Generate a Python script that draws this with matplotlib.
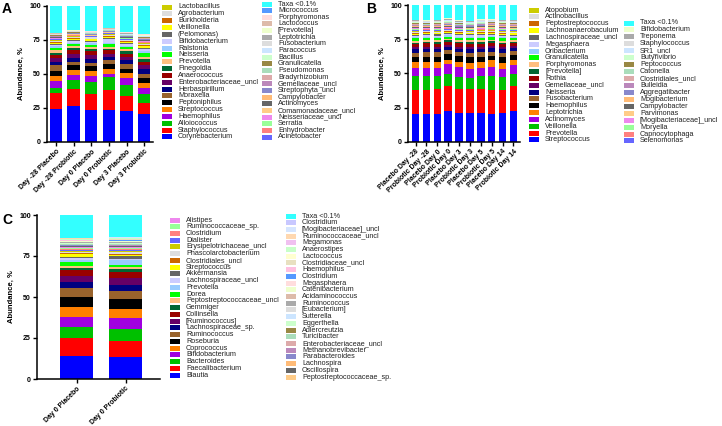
import matplotlib
matplotlib.use("Agg")
import matplotlib.pyplot as plt
from matplotlib.patches import Rectangle
import numpy as np

plt.rcParams['font.family'] = ['Liberation Sans', 'DejaVu Sans']

W, H = 722, 426

# shared GraphPad-like colour order, bottom of stack first
palette = ["#0000FF", "#FF0000", "#00C000", "#A000E0", "#FF8000", "#000000",
           "#99632C", "#000080", "#660066", "#990000", "#006633", "#FFBF80",
           "#00FF00", "#99CCFF", "#CCCCFF", "#666666", "#FFFF00", "#CC6600",
           "#DDDDDD", "#CCCC00", "#6666FF", "#FF8080", "#99FF99", "#EE88EE",
           "#FFCC88", "#666666", "#FFBB77", "#8888CC", "#BB88BB", "#DDAAAA",
           "#AADDBB", "#998844", "#CCFFCC", "#CCE5FF", "#DDDDDD", "#AAAAAA",
           "#EEFFCC", "#DDBBAA", "#FFDDDD", "#5599FF", "#FFC0E0", "#E8E0C0",
           "#FFFFD0", "#C8FFC8", "#F0C0F0", "#FFD8B0", "#D5E5FF", "#C8C8FF"]
taxa_color = "#33FFFF"

# ---------------- panel A ----------------
a_groups = ["Day -28 Placebo", "Day -28 Probiotic", "Day 0 Placebo",
            "Day 0 Probiotic", "Day 3 Placebo", "Day 3 Probiotic"]
a_taxa = ["Corynebacterium", "Staphylococcus", "Alloiococcus", "Haemophilus",
          "Streptococcus", "Peptoniphilus", "Moraxella", "Herbaspirillum",
          "Enterobacteriaceae_uncl", "Anaerococcus", "Finegoldia", "Prevotella",
          "Neisseria", "Ralstonia", "Bifidobacterium", "(Pelomonas)", "Veillonella",
          "Burkholderia", "Agrobacterium", "Lactobacillus",
          "Acinetobacter", "Enhydrobacter", "Serratia", "Neisseriaceae_uncl",
          "Comamonadaceae_uncl", "Actinomyces", "Campylobacter", "Streptophyta_uncl",
          "Gemellaceae_uncl", "Bradyrhizobium", "Pseudomonas", "Granulicatella",
          "Bacillus", "Paracoccus", "Fusobacterium", "Leptotrichia", "[Prevotella]",
          "Lactococcus", "Porphyromonas", "Micrococcus", "Taxa <0.1%"]
a_ncol1 = 20
a_day_m28_placebo = [24.5, 11.5, 4.0, 4.6, 4.0, 3.8, 4.0, 2.5, 2.5, 2.5, 1.7, 2.0, 1.5, 1.2, 1.2, 0.8, 0.8, 0.7, 0.8, 0.6,
                     0.3, 0.3, 0.2, 0.3, 0.3, 0.3, 0.2, 0.3, 0.3, 0.2, 0.2, 0.3, 0.2, 0.3, 0.3, 0.3, 0.2, 0.3, 0.3, 0.2, 19.5]
a_day_m28_probiotic = [26.2, 13.0, 6.6, 3.2, 3.7, 3.7, 2.4, 3.2, 2.5, 2.9, 1.6, 1.5, 1.2, 1.2, 1.0, 0.8, 1.2, 0.6, 0.8, 0.6,
                       0.3, 0.2, 0.2, 0.3, 0.2, 0.3, 0.2, 0.2, 0.3, 0.2, 0.2, 0.3, 0.2, 0.2, 0.3, 0.3, 0.2, 0.2, 0.3, 0.2, 17.3]
a_day0_placebo = [23.8, 11.5, 9.1, 4.1, 3.5, 3.9, 2.4, 3.0, 2.4, 3.0, 1.5, 1.5, 1.6, 1.3, 1.2, 0.8, 0.8, 0.7, 0.8, 0.6,
                  0.2, 0.2, 0.2, 0.2, 0.3, 0.2, 0.2, 0.2, 0.2, 0.2, 0.2, 0.2, 0.2, 0.2, 0.2, 0.2, 0.2, 0.2, 0.2, 0.2, 18.4]
a_day0_probiotic = [23.3, 14.7, 9.5, 2.7, 3.7, 3.5, 2.6, 2.5, 2.0, 2.9, 1.3, 1.5, 1.6, 1.2, 2.5, 0.8, 1.0, 0.7, 0.8, 0.7,
                    0.3, 0.2, 0.2, 0.3, 0.2, 0.2, 0.2, 0.3, 0.2, 0.2, 0.2, 0.2, 0.3, 0.2, 0.2, 0.2, 0.3, 0.2, 0.2, 0.2, 16.0]
a_day3_placebo = [22.8, 11.0, 8.1, 5.1, 3.7, 3.2, 3.7, 2.4, 2.5, 2.5, 1.9, 1.4, 1.2, 1.2, 1.0, 0.8, 0.8, 0.6, 0.8, 0.6,
                  0.3, 0.3, 0.3, 0.2, 0.3, 0.3, 0.3, 0.3, 0.2, 0.3, 0.3, 0.3, 0.3, 0.2, 0.3, 0.3, 0.3, 0.3, 0.2, 0.3, 19.1]
a_day3_probiotic = [20.3, 8.1, 7.1, 4.5, 3.1, 3.9, 3.2, 3.7, 2.5, 2.4, 2.5, 1.2, 3.2, 1.5, 1.3, 0.9, 1.0, 0.7, 0.8, 0.6,
                    0.4, 0.4, 0.3, 0.4, 0.4, 0.3, 0.4, 0.4, 0.3, 0.4, 0.3, 0.4, 0.4, 0.3, 0.4, 0.3, 0.4, 0.3, 0.4, 0.3, 20.3]

# ---------------- panel B ----------------
b_groups = ["Placebo Day -28", "Probiotic Day -28", "Placebo Day 0", "Probiotic Day 0",
            "Placebo Day 3", "Probiotic Day 3", "Placebo Day 5", "Probiotic Day 5",
            "Placebo Day 14", "Probiotic Day 14"]
b_taxa = ["Streptococcus", "Prevotella", "Veillonella", "Actinomyces", "Leptotrichia",
          "Haemophilus", "Fusobacterium", "Neisseria", "Gemellaceae_uncl", "Rothia",
          "[Prevotella]", "Porphyromonas", "Granulicatella", "Oribacterium", "Megasphaera",
          "Lachnospiraceae_uncl", "Lachnoanaerobaculum", "Peptostreptococcus",
          "Actinobacillus", "Atopobium",
          "Selenomonas", "Capnocytophaga", "Moryella", "[Mogibacteriaceae]_uncl",
          "Parvimonas", "Campylobacter", "Mogibacterium", "Aggregatibacter", "Bulleidia",
          "Clostridiales_uncl", "Catonella", "Peptococcus", "Butyrivibrio", "SR1_uncl",
          "Staphylococcus", "Treponema", "Bifidobacterium", "Taxa <0.1%"]
b_ncol1 = 20
b_placebo_dm28 = [20.2, 18.0, 9.7, 6.4, 4.3, 3.4, 3.0, 2.6, 1.4, 2.4, 1.2, 1.4, 1.6, 1.0, 1.0, 0.8, 0.7, 0.6, 0.7, 0.6,
                  0.5, 0.5, 0.4, 0.5, 0.5, 0.6, 0.5, 0.5, 0.4, 0.5, 0.5, 0.4, 0.5, 0.5, 0.6, 0.4, 0.5, 10.7]
b_probiotic_dm28 = [20.2, 18.0, 9.7, 5.9, 4.8, 3.8, 3.0, 2.8, 1.5, 2.2, 1.3, 1.2, 1.4, 1.1, 1.0, 0.8, 0.8, 0.6, 0.7, 0.5,
                    0.4, 0.5, 0.4, 0.4, 0.5, 0.5, 0.4, 0.5, 0.4, 0.4, 0.5, 0.4, 0.4, 0.5, 0.5, 0.4, 0.4, 11.2]
b_placebo_d0 = [20.4, 18.5, 9.0, 6.4, 4.3, 3.8, 3.0, 2.5, 1.5, 2.3, 1.2, 1.3, 1.5, 1.1, 0.9, 0.8, 0.7, 0.6, 0.7, 0.5,
                0.5, 0.5, 0.4, 0.5, 0.5, 0.6, 0.5, 0.5, 0.4, 0.5, 0.5, 0.4, 0.5, 0.5, 0.6, 0.4, 0.5, 10.7]
b_probiotic_d0 = [22.4, 18.2, 9.3, 6.8, 3.3, 4.5, 2.9, 2.2, 1.3, 2.0, 1.2, 1.2, 1.5, 1.0, 0.9, 0.7, 0.8, 0.5, 0.7, 0.5,
                  0.5, 0.5, 0.4, 0.5, 0.5, 0.6, 0.5, 0.5, 0.4, 0.5, 0.5, 0.4, 0.5, 0.5, 0.6, 0.4, 0.5, 9.8]
b_placebo_d3 = [21.2, 17.5, 8.7, 7.1, 3.7, 4.6, 2.7, 2.6, 1.5, 2.3, 1.2, 1.3, 1.4, 1.1, 1.0, 0.8, 0.7, 0.6, 0.7, 0.5,
                0.4, 0.5, 0.4, 0.4, 0.5, 0.5, 0.4, 0.5, 0.4, 0.4, 0.5, 0.4, 0.4, 0.5, 0.5, 0.4, 0.4, 11.3]
b_probiotic_d3 = [21.2, 17.7, 8.1, 6.5, 4.2, 4.3, 3.0, 2.8, 1.6, 2.4, 1.3, 1.2, 1.5, 1.1, 0.9, 0.8, 0.7, 0.6, 0.7, 0.5,
                  0.4, 0.5, 0.4, 0.4, 0.5, 0.5, 0.4, 0.5, 0.4, 0.4, 0.5, 0.4, 0.4, 0.5, 0.5, 0.4, 0.4, 11.4]
b_placebo_d5 = [20.9, 17.5, 9.5, 6.4, 4.3, 3.4, 3.4, 2.6, 1.4, 2.4, 1.2, 1.4, 1.6, 1.0, 1.0, 0.8, 0.7, 0.6, 0.7, 0.6,
                0.5, 0.5, 0.4, 0.5, 0.5, 0.6, 0.5, 0.5, 0.4, 0.5, 0.5, 0.4, 0.5, 0.5, 0.6, 0.4, 0.5, 10.3]
b_probiotic_d5 = [20.2, 18.0, 9.7, 6.8, 4.9, 3.4, 3.0, 2.5, 1.5, 2.3, 1.2, 1.3, 1.5, 1.1, 0.9, 0.8, 0.7, 0.6, 0.7, 0.5,
                  0.5, 0.5, 0.4, 0.5, 0.5, 0.6, 0.5, 0.5, 0.4, 0.5, 0.5, 0.4, 0.5, 0.5, 0.6, 0.4, 0.5, 10.1]
b_placebo_d14 = [20.9, 17.3, 9.2, 6.1, 4.2, 4.3, 3.0, 2.6, 1.4, 2.4, 1.2, 1.4, 1.6, 1.0, 1.0, 0.8, 0.7, 0.6, 0.7, 0.6,
                 0.5, 0.5, 0.4, 0.5, 0.5, 0.6, 0.5, 0.5, 0.4, 0.5, 0.5, 0.4, 0.5, 0.5, 0.6, 0.4, 0.5, 10.7]
b_probiotic_d14 = [22.4, 18.2, 9.3, 6.5, 3.2, 3.9, 2.9, 2.2, 1.3, 2.0, 1.2, 1.2, 1.5, 1.0, 0.9, 0.7, 0.8, 0.5, 0.7, 0.5,
                   0.5, 0.5, 0.4, 0.5, 0.5, 0.6, 0.5, 0.5, 0.4, 0.5, 0.5, 0.4, 0.5, 0.5, 0.6, 0.4, 0.5, 10.8]

# ---------------- panel C ----------------
c_groups = ["Day 0 Placebo", "Day 0 Probiotic"]
c_taxa = ["Blautia", "Faecalibacterium", "Bacteroides", "Bifidobacterium", "Coprococcus",
          "Roseburia", "Ruminococcus", "Lachnospiraceae_sp.", "[Ruminococcus]", "Collinsella",
          "Gemmiger", "Peptostreptococcaceae_uncl", "Dorea", "Prevotella",
          "Lachnospiraceae_uncl", "Akkermansia", "Streptococcus", "Clostridiales_uncl",
          "Phascolarctobacterium", "Erysipelotrichaceae_uncl", "Dialister", "Clostridium",
          "Ruminococcaceae_sp.", "Alistipes",
          "Peptostreptococcaceae_sp.", "Oscillospira", "Lachnospira", "Parabacteroides",
          "Methanobrevibacter", "Enterobacteriaceae_uncl", "Turicibacter", "Adlercreutzia",
          "Eggerthella", "Sutterella", "[Eubacterium]", "Ruminococcus", "Acidaminococcus",
          "Catenibacterium", "Megasphaera", "Clostridium", "Haemophilus",
          "Clostridiaceae_uncl", "Lactococcus", "Anaerostipes", "Megamonas",
          "Ruminococcaceae_uncl", "[Mogibacteriaceae]_uncl", "Clostridium", "Taxa <0.1%"]
c_ncol1 = 24
c_day0_placebo = [14.2, 10.6, 7.1, 6.1, 6.1, 6.1, 5.5, 3.2, 3.9, 3.5, 1.6, 1.0, 2.2, 1.5, 1.0, 1.0, 1.4, 0.6, 1.0, 0.7,
                  0.6, 0.5, 0.4, 0.6,
                  0.3, 0.4, 0.2, 0.2, 0.3, 0.2, 0.2, 0.3, 0.2, 0.2, 0.3, 0.2, 0.2, 0.3, 0.2, 0.2, 0.3, 0.2, 0.2, 0.3,
                  0.2, 0.2, 0.2, 0.3, 13.8]
c_day0_probiotic = [13.2, 10.2, 7.1, 6.5, 5.7, 5.9, 5.1, 3.6, 4.1, 4.1, 1.4, 1.2, 1.2, 3.1, 0.9, 1.4, 1.0, 0.6, 0.9, 0.6,
                    0.7, 0.6, 0.5, 0.6,
                    0.3, 0.3, 0.3, 0.2, 0.3, 0.3, 0.2, 0.3, 0.3, 0.2, 0.3, 0.3, 0.3, 0.2, 0.3, 0.3, 0.3, 0.2, 0.3, 0.3,
                    0.2, 0.3, 0.3, 0.3, 13.2]

a_values = [a_day_m28_placebo, a_day_m28_probiotic, a_day0_placebo,
            a_day0_probiotic, a_day3_placebo, a_day3_probiotic]
b_values = [b_placebo_dm28, b_probiotic_dm28, b_placebo_d0, b_probiotic_d0, b_placebo_d3,
            b_probiotic_d3, b_placebo_d5, b_probiotic_d5, b_placebo_d14, b_probiotic_d14]
c_values = [c_day0_placebo, c_day0_probiotic]

a_colors = palette[:len(a_taxa) - 1] + [taxa_color]
b_colors = palette[:len(b_taxa) - 1] + [taxa_color]
c_colors = palette[:36] + [palette[37], palette[36]] + palette[38:len(c_taxa) - 1] + [taxa_color]


def px_axes(fig, left, top, right, bottom):
    return fig.add_axes([left / W, 1 - bottom / H, (right - left) / W, (bottom - top) / H])


def stacked(ax, groups, values, colors, width, xlim):
    data = np.array(values)
    x = np.arange(len(groups))
    bottom = np.zeros(len(groups))
    for i in range(data.shape[1]):
        ax.bar(x, data[:, i], bottom=bottom, width=width, color=colors[i], linewidth=0)
        bottom += data[:, i]
    ax.set_xlim(xlim)
    ax.set_ylim(0, 100)
    ax.set_yticks([0, 25, 50, 75, 100])
    ax.set_xticks(x)
    ax.set_xticklabels(groups, rotation=45, ha='right', rotation_mode='anchor')
    for lab in ax.get_xticklabels() + ax.get_yticklabels():
        lab.set_fontweight('bold')
    ax.tick_params(axis='both', direction='out', length=3, width=1.0, labelsize=5, pad=1.5)
    ax.spines['top'].set_visible(False)
    ax.spines['right'].set_visible(False)
    ax.spines['left'].set_linewidth(1.1)
    ax.spines['bottom'].set_linewidth(1.1)
    ax.set_ylabel("Abundance, %", fontsize=5.5, fontweight='bold', labelpad=3)


def column_legend(fig, labels, colors, x, y0, pitch):
    # labels/colors listed top to bottom
    for k, (lab, col) in enumerate(zip(labels, colors)):
        yc = y0 + k * pitch
        fig.add_artist(Rectangle((x / W, 1 - (yc + 2.5) / H), 10 / W, 5 / H,
                                 transform=fig.transFigure, facecolor=col, edgecolor='none'))
        fig.text((x + 16) / W, 1 - yc / H, lab, fontsize=5.2, va='center', ha='left', color='#222222')


def legends(fig, taxa, colors, ncol1, c1, c2):
    col1 = list(zip(taxa[:ncol1], colors[:ncol1]))[::-1]
    col2 = list(zip(taxa[ncol1:], colors[ncol1:]))[::-1]
    column_legend(fig, [t for t, _ in col1], [c for _, c in col1], *c1)
    column_legend(fig, [t for t, _ in col2], [c for _, c in col2], *c2)


fig = plt.figure(figsize=(W / 100, H / 100), dpi=100)

ax_a = px_axes(fig, 47, 6, 153, 142)
stacked(ax_a, a_groups, a_values, a_colors, 0.68, (-0.5, 5.5))
legends(fig, a_taxa, a_colors, a_ncol1, (162, 7, 6.84), (262, 4, 6.65))

ax_b = px_axes(fig, 408, 5, 520, 142)
stacked(ax_b, b_groups, b_values, b_colors, 0.69, (-0.7, 9.6))
legends(fig, b_taxa, b_colors, b_ncol1, (529, 10, 6.84), (624, 23, 6.94))

ax_c = px_axes(fig, 37, 215, 160, 379)
stacked(ax_c, c_groups, c_values, c_colors, 0.67, (-0.81, 1.7))
legends(fig, c_taxa, c_colors, c_ncol1, (170, 220, 6.74), (286, 216, 6.71))

fig.text(2 / W, 1 - 9 / H, "A", fontsize=10, fontweight='bold', va='center')
fig.text(366 / W, 1 - 9 / H, "B", fontsize=10, fontweight='bold', va='center')
fig.text(2 / W, 1 - 220 / H, "C", fontsize=10, fontweight='bold', va='center')

fig.savefig("out.png", dpi=100)
